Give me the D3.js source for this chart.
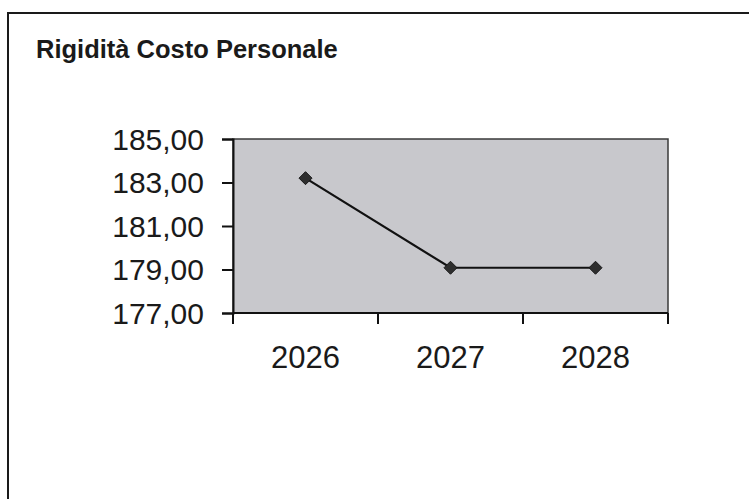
<!DOCTYPE html>
<html>
<head>
<meta charset="utf-8">
<script src="https://cdn.jsdelivr.net/npm/d3@7"></script>
<style>
  html, body { margin: 0; padding: 0; background: #ffffff; }
  svg { display: block; font-family: "Liberation Sans", Arial, sans-serif; }
</style>
</head>
<body>
<svg id="chart" width="749" height="499"></svg>
<script>
const title = "Rigidità Costo Personale";
const categories = ["2026", "2027", "2028"];
const values = [183.2, 179.08, 179.08];
const yTicks = [177, 179, 181, 183, 185];
const yDomain = [177, 185];

const svg = d3.select("#chart");
const W = 749, H = 499;

// outer frame (top and left borders visible)
svg.append("path")
  .attr("d", `M8,${H} L8,13 L${W},13`)
  .attr("fill", "none")
  .attr("stroke", "#1a1a1a")
  .attr("stroke-width", 2);

svg.append("text")
  .attr("x", 36)
  .attr("y", 58)
  .attr("font-size", 25.5)
  .attr("font-weight", "bold")
  .attr("fill", "#1a1a1a")
  .text(title);

const plot = { left: 233, right: 668, top: 139, bottom: 313 };

const x = d3.scaleBand().domain(categories).range([plot.left, plot.right]).padding(0);
const y = d3.scaleLinear().domain(yDomain).range([plot.bottom, plot.top]);

// plot area
svg.append("rect")
  .attr("x", plot.left).attr("y", plot.top)
  .attr("width", plot.right - plot.left).attr("height", plot.bottom - plot.top)
  .attr("fill", "#c8c8cc")
  .attr("stroke", "#3a3a3a")
  .attr("stroke-width", 1.5);

const itLocale = d3.formatLocale({ decimal: ",", thousands: ".", grouping: [3], currency: ["", " €"] });
const fmt = itLocale.format(".2f");

// y axis
const yAxis = d3.axisLeft(y).tickValues(yTicks).tickFormat(fmt).tickSize(11).tickPadding(18);
const gy = svg.append("g").attr("transform", `translate(${plot.left},0)`).call(yAxis);
gy.select(".domain").attr("stroke", "#111").attr("stroke-width", 2);
gy.selectAll(".tick line").attr("stroke", "#111").attr("stroke-width", 2);
gy.selectAll(".tick text")
  .attr("font-size", 30)
  .attr("fill", "#1a1a1a")
  .attr("font-family", "'Liberation Sans', Arial, sans-serif")
  .attr("dy", "0.34em");

// x axis (ticks at category boundaries)
const boundaries = categories.map(c => x(c)).concat([x.range()[1]]);
svg.append("line")
  .attr("x1", plot.left).attr("x2", plot.right)
  .attr("y1", plot.bottom).attr("y2", plot.bottom)
  .attr("stroke", "#111").attr("stroke-width", 2);
svg.selectAll(".xtick").data(boundaries).enter().append("line")
  .attr("class", "xtick")
  .attr("x1", d => d).attr("x2", d => d)
  .attr("y1", plot.bottom).attr("y2", plot.bottom + 11)
  .attr("stroke", "#111").attr("stroke-width", 2);
svg.selectAll(".xlabel").data(categories).enter().append("text")
  .attr("class", "xlabel")
  .attr("x", d => x(d) + x.bandwidth() / 2)
  .attr("y", 368)
  .attr("text-anchor", "middle")
  .attr("font-size", 31)
  .attr("fill", "#1a1a1a")
  .text(d => d);

// line
const pts = categories.map((c, i) => [x(c) + x.bandwidth() / 2, y(values[i])]);
svg.append("path")
  .attr("d", d3.line()(pts))
  .attr("fill", "none")
  .attr("stroke", "#111")
  .attr("stroke-width", 2.2);

// diamond markers
svg.selectAll(".marker").data(pts).enter().append("path")
  .attr("class", "marker")
  .attr("transform", d => `translate(${d[0]},${d[1]})`)
  .attr("d", "M0,-6.5 L6.5,0 L0,6.5 L-6.5,0 Z")
  .attr("fill", "#2e2e2e")
  .attr("stroke", "#1a1a1a")
  .attr("stroke-width", 1);
</script>
</body>
</html>
